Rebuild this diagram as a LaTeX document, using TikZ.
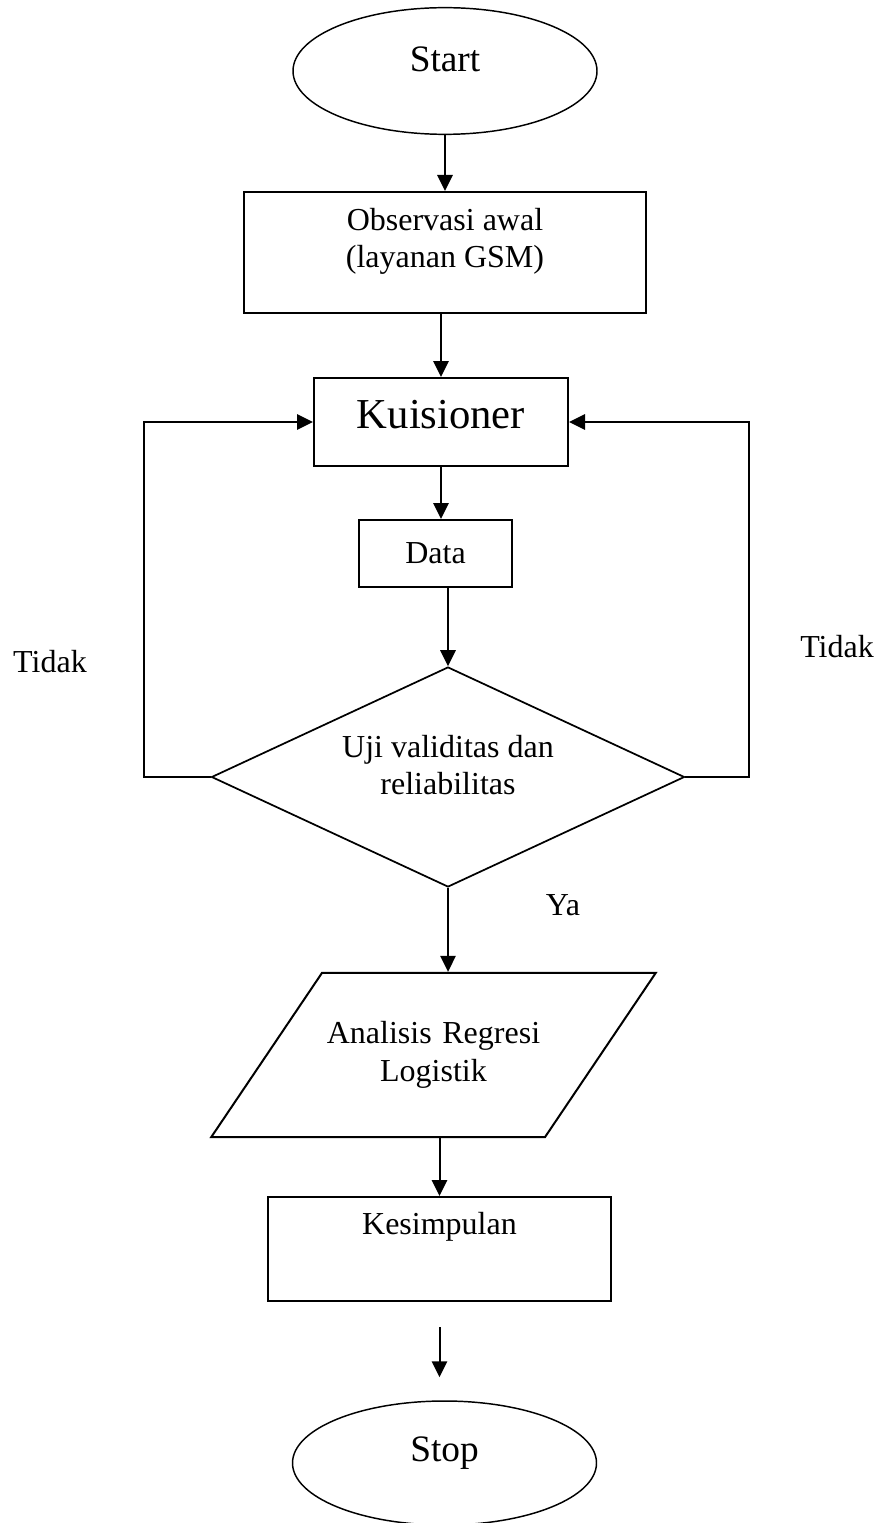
\documentclass[tikz,border=0pt]{standalone}
\usepackage{fontspec}
\setmainfont{Liberation Serif}
\usetikzlibrary{shapes.geometric,arrows.meta}

\begin{document}
\begin{tikzpicture}[x=0.75pt,y=-0.75pt,
                    font=\fontsize{24}{28}\selectfont,
                    line width=1.5pt,
                    arrow/.style = {line width=1.5pt,-{Triangle[length=12pt,width=11.5pt]}},
                    box/.style = {draw,rectangle,inner sep=0pt},
                    term/.style = {draw,ellipse,inner sep=0pt,line width=1.1pt,
                                   font=\fontsize{28}{32}\selectfont,
                                   minimum width=228pt,minimum height=95pt},
                    decision/.style = {draw,diamond,inner sep=0pt,line width=1.3pt},
                    inout/.style = {draw,trapezium,trapezium left angle=56,
                                    trapezium right angle=124,
                                    text width=160pt,align=center,
                                    inner xsep=3.6pt,inner ysep=36.7pt}]
                    \useasboundingbox (0,0) rectangle (879,1523);

                    % main column
                    \node[term,text depth=18pt] (start) at (445,71) {Start};
                    \node[box,minimum width=301.5pt,minimum height=90.75pt,
                          label={[align=center,yshift=8.4pt]center:Observasi awal\\(layanan GSM)}] (obs) at (445,252.5) {};
                    \node[box,minimum width=190.5pt,minimum height=66pt,text depth=11pt,
                          font=\fontsize{32}{36}\selectfont] (kui) at (441,422) {Kuisioner};
                    \node[box,minimum width=114.75pt,minimum height=50.25pt] (data) at (435.5,553.5) {Data};
                    \node[decision,minimum width=354.75pt,minimum height=165pt,
                          label={[align=center,yshift=8.8pt]center:Uji validitas dan\\reliabilitas}] (dec) at (448,777) {};
                    \node[inout] (para) at (433.5,1055) {Analisis Regresi\\Logistik};
                    \node[box,minimum width=257.25pt,minimum height=78pt,text depth=38pt] (kes) at (439.5,1249) {Kesimpulan};
                    \node[term,minimum height=93pt,text depth=21pt] (stop) at (444.5,1463) {Stop};

                    % labels
                    \node (tidakL) at (50,662) {Tidak};
                    \node (tidakR) at (837,647) {Tidak};
                    \node (ya) at (563,905) {Ya};

                    \draw[arrow] (start.south) -- (start.south |- obs.north);
                    \draw[arrow] (kui.north |- obs.south) -- (kui.north);
                    \draw[arrow] (kui.south) -- (kui.south |- data.north);
                    \draw[arrow] (dec.north |- data.south) -- (dec.north);
                    \draw[arrow] (dec.south) -- (dec.south |- para.north);
                    \draw[arrow] (kes.north |- para.south) -- (kes.north);
                    \draw[arrow,shorten <=18.75pt,shorten >=17.25pt] (kes.south) -- (kes.south |- stop.north);

                    % back loops
                    \draw[arrow] (dec.west) -- ++(-67,0) |- (kui.west);
                    \draw[arrow] (dec.east) -- ++(64,0) |- (kui.east);
                \end{tikzpicture}
\end{document}
